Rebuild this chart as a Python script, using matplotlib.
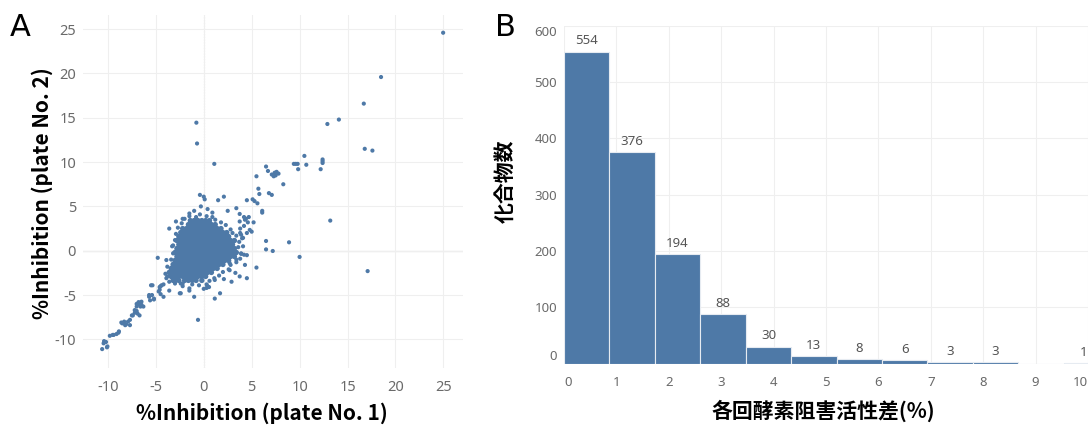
import matplotlib.pyplot as plt

plt.rcParams['axes.unicode_minus'] = False

# ---- panel A: %Inhibition plate 1 vs plate 2 ----
# dense centre of the cloud, one list of x values per y level
core_row_y = [3.4, 2.95, 2.5, 2.05, 1.6, 1.15, 0.7, 0.25, -0.2, -0.65, -1.1, -1.55, -2.0, -2.45, -2.9, -3.35]
core_row_x = [
    [-1.4, -1.0, -0.6, -0.2, 0.2, 0.6],
    [-1.6, -1.2, -0.8, -0.4, 0.0, 0.4, 0.8, 1.2],
    [-2.2, -1.8, -1.4, -1.0, -0.6, -0.2, 0.2, 0.6, 1.0, 1.4, 1.8],
    [-2.4, -2.0, -1.6, -1.2, -0.8, -0.4, 0.0, 0.4, 0.8, 1.2, 1.6, 2.0, 2.4],
    [-2.6, -2.2, -1.8, -1.4, -1.0, -0.6, -0.2, 0.2, 0.6, 1.0, 1.4, 1.8, 2.2, 2.6],
    [-2.8, -2.4, -2.0, -1.6, -1.2, -0.8, -0.4, 0.0, 0.4, 0.8, 1.2, 1.6, 2.0, 2.4, 2.8, 3.2],
    [-2.6, -2.2, -1.8, -1.4, -1.0, -0.6, -0.2, 0.2, 0.6, 1.0, 1.4, 1.8, 2.2, 2.6, 3.0],
    [-2.8, -2.4, -2.0, -1.6, -1.2, -0.8, -0.4, 0.0, 0.4, 0.8, 1.2, 1.6, 2.0, 2.4, 2.8, 3.2],
    [-3.0, -2.6, -2.2, -1.8, -1.4, -1.0, -0.6, -0.2, 0.2, 0.6, 1.0, 1.4, 1.8, 2.2, 2.6, 3.0, 3.4],
    [-2.8, -2.4, -2.0, -1.6, -1.2, -0.8, -0.4, 0.0, 0.4, 0.8, 1.2, 1.6, 2.0, 2.4, 2.8, 3.2],
    [-3.0, -2.6, -2.2, -1.8, -1.4, -1.0, -0.6, -0.2, 0.2, 0.6, 1.0, 1.4, 1.8, 2.2, 2.6],
    [-3.2, -2.8, -2.4, -2.0, -1.6, -1.2, -0.8, -0.4, 0.0, 0.4, 0.8, 1.2, 1.6, 2.0],
    [-3.4, -3.0, -2.6, -2.2, -1.8, -1.4, -1.0, -0.6, -0.2, 0.2, 0.6, 1.0, 1.4],
    [-3.6, -3.2, -2.8, -2.4, -2.0, -1.6, -1.2, -0.8, -0.4, 0.0, 0.4, 0.8],
    [-3.4, -3.0, -2.6, -2.2, -1.8, -1.4, -1.0, -0.6, -0.2, 0.2],
    [-3.2, -2.6, -2.0, -1.6, -1.2, -0.8, -0.2],
]

# loose points around the centre
fringe_pts = [
    (-2.0, 3.6), (1.2, 3.5), (1.8, 3.2), (2.3, 2.9), (2.8, 2.4), (3.0, 2.0), (3.4, 1.7),
    (3.7, 1.0), (3.6, 0.4), (3.9, -0.3), (3.8, -0.9), (3.4, -1.3), (2.8, -1.6), (2.6, -2.1),
    (2.0, -2.4), (1.6, -2.8), (1.1, -3.1), (0.6, -3.4), (0.3, -3.8), (-0.5, -3.9), (-1.2, -3.8),
    (-2.2, -3.7), (-3.0, -3.7), (-3.9, -3.1), (-4.0, -2.6), (-3.8, -1.8), (-3.4, -1.0),
    (-3.2, -0.3), (-3.3, 0.5), (-3.0, 1.2), (-2.9, 1.9), (-2.7, 2.6), (-2.3, 3.1), (-1.5, 3.9),
    (-0.8, 3.8), (-0.4, 4.1), (0.3, 3.9), (0.9, 3.8), (-1.5, 4.2), (0.9, 4.3), (2.5, 4.5),
    (3.4, 4.8), (4.4, 3.6), (4.7, 3.8), (3.8, 2.0), (4.2, 2.8), (4.0, 1.4), (3.3, -2.5),
    (4.3, -1.6), (2.9, -3.5), (2.1, -3.2), (-2.9, 3.3), (-2.2, 3.6), (-3.2, 0.6), (-3.9, -1.05),
    (-4.8, -0.8), (-3.6, 2.5), (4.1, 0.5), (4.8, 2.35), (4.5, 2.0), (3.75, 3.3), (4.1, 1.45),
    (3.4, -1.0), (2.7, -1.4), (3.75, -2.9), (2.7, -2.2), (-0.4, 6.3), (0.0, 6.1), (0.1, 5.8),
    (1.5, 5.7), (2.1, 6.1), (-0.3, 5.0), (0.4, 4.7), (-1.0, 4.5),
]

# diagonal tail towards -10 / -10
tail_pts = [
    (-10.6, -11.1), (-10.4, -10.2), (-10.45, -10.45), (-10.1, -10.9), (-10.05, -10.8),
    (-10.2, -10.3), (-9.8, -9.6), (-9.5, -9.5), (-9.4, -9.5), (-9.1, -9.4), (-8.85, -9.1),
    (-8.9, -9.25), (-8.6, -8.1), (-8.5, -8.2), (-8.3, -8.0), (-8.2, -8.4), (-8.1, -8.3),
    (-7.9, -8.0), (-7.7, -8.4), (-7.7, -7.8), (-7.5, -7.3), (-7.4, -7.3), (-7.2, -7.0),
    (-7.2, -6.7), (-7.0, -6.8), (-6.9, -7.1), (-6.7, -7.3), (-7.0, -6.0), (-7.0, -6.3),
    (-6.8, -5.8), (-6.7, -5.9), (-6.7, -6.1), (-6.5, -6.1), (-6.5, -5.75), (-6.6, -6.3),
    (-6.3, -6.3), (-5.7, -5.2), (-5.7, -5.0), (-5.6, -5.6), (-5.5, -3.9), (-5.2, -5.5),
    (-5.2, -5.4), (-5.4, -5.0), (-5.35, -3.9), (-4.7, -4.6), (-4.6, -4.4), (-4.6, -4.1),
    (-4.5, -4.0), (-4.4, -3.9), (-4.5, -4.9), (-4.2, -5.2), (-4.2, -3.8), (-3.6, -4.5),
    (-3.8, -2.9), (-3.5, -2.8), (-3.3, -3.0), (-2.9, -3.4), (-2.7, -3.2), (-2.4, -3.7),
    (-2.2, -4.0), (-2.4, -4.8), (-1.5, -4.5), (-1.0, -5.2), (-0.6, -7.8), (0.3, -4.2),
    (0.4, -4.0), (1.15, -3.3), (1.15, -5.4), (1.7, -4.8), (-3.6, -3.5), (-2.5, -4.8),
    (-1.5, -4.25), (0.0, -4.3), (0.55, -4.1),
]

# points away from the cloud (upper right, stragglers)
upper_pts = [
    (24.98, 24.6), (18.5, 19.6), (16.7, 16.6), (12.9, 14.3), (14.1, 14.8), (16.8, 11.5),
    (17.6, 11.3), (13.2, 3.4), (17.1, -2.3), (-0.77, 14.45), (-0.7, 12.1), (1.1, 9.8),
    (10.5, 10.7), (9.4, 9.8), (9.6, 9.8), (9.8, 9.8), (9.85, 9.2), (10.7, 9.7), (12.4, 9.9),
    (12.4, 10.1), (12.4, 10.3), (12.2, 9.2), (6.5, 9.5), (6.7, 9.0), (7.1, 8.6), (7.4, 8.8),
    (7.6, 8.9), (7.8, 8.7), (7.3, 8.4), (7.5, 8.5), (8.3, 7.5), (5.5, 8.4), (5.7, 7.0),
    (5.8, 6.4), (6.8, 6.5), (7.1, 6.3), (4.5, 5.7), (5.1, 5.8), (5.6, 5.35), (5.3, 5.6),
    (6.1, 4.5), (6.1, 4.3), (3.75, 4.15), (4.2, 3.8), (4.3, 3.5), (4.6, 3.2), (5.2, 3.2),
    (3.8, 2.5), (3.9, 1.8), (5.0, 2.15), (6.5, 1.1), (6.5, 0.15), (7.2, -0.03), (8.9, 0.95),
    (10.0, -0.7), (3.9, -0.35), (4.2, -0.45), (4.5, -0.5), (5.5, -1.9), (4.5, -3.1),
]

a_ticks = [-10, -5, 0, 5, 10, 15, 20, 25]

# ---- panel B: histogram of run-to-run difference ----
bin_width = 0.867
counts = [554, 376, 194, 88, 30, 13, 8, 6, 3, 3, 0, 1]
b_xticks = [0, 1, 2, 3, 4, 5, 6, 7, 8, 9, 10]
b_yticks = [0, 100, 200, 300, 400, 500, 600]

BLUE = '#4e79a7'
TICK = '#6a6a6a'
W, H = 1088, 425

fig = plt.figure(figsize=(W / 100, H / 100), dpi=100)

# panel A
axA = fig.add_axes([83 / W, (H - 367.7) / H, 379.5 / W, 352.7 / H])
core_x, core_y = [], []
for y, row in zip(core_row_y, core_row_x):
    for x in row:
        core_x.append(x)
        core_y.append(y)
other_x, other_y = [], []
for pts in (fringe_pts, tail_pts, upper_pts):
    for x, y in pts:
        other_x.append(x)
        other_y.append(y)
# centre points drawn a touch larger so the overlapping cloud reads as solid
axA.scatter(core_x, core_y, s=15, color=BLUE, edgecolors='none', zorder=3)
axA.scatter(other_x, other_y, s=9, color=BLUE, edgecolors='none', zorder=3)
axA.set_xlim(-12.6, 27)
axA.set_ylim(-13.2, 26.6)
axA.set_xticks(a_ticks)
axA.set_yticks(a_ticks)
axA.grid(color='#efefef', lw=0.8, zorder=0)
axA.axvline(0, color='#c4c4c4', lw=0.8, ls=(0, (1, 1.5)), zorder=1)
axA.axhline(0, color='#d8d8d8', lw=0.9, zorder=1)
for s in axA.spines.values():
    s.set_visible(False)
axA.tick_params(axis='x', length=0, pad=9, labelsize=10.5, labelcolor=TICK)
axA.tick_params(axis='y', length=0, pad=5, labelsize=10.5, labelcolor=TICK)
for lab in axA.get_xticklabels() + axA.get_yticklabels():
    lab.set_family('Noto Sans')

fig.text(20 / W, 1 - 28 / H, 'A', fontsize=22, ha='center', va='center')
fig.text(262 / W, 1 - 413 / H, '%Inhibition (plate No. 1)', fontsize=15, fontweight='bold',
         family='Noto Sans CJK JP', ha='center', va='center')
fig.text(42 / W, 1 - 193 / H, '%Inhibition (plate No. 2)', fontsize=15, fontweight='bold',
         family='Noto Sans CJK JP', ha='center', va='center', rotation=90)

# panel B
axB = fig.add_axes([564 / W, (H - 363.5) / H, 524 / W, 337.8 / H])
lefts = [i * bin_width for i in range(len(counts))]
axB.bar(lefts, counts, width=bin_width, align='edge', color=BLUE,
        edgecolor='#e6ebf1', lw=0.8, zorder=3)
axB.set_xlim(0, 10)
axB.set_ylim(0, 600)
axB.set_xticks(b_xticks)
axB.set_yticks(b_yticks)
axB.grid(color='#efefef', lw=0.8, zorder=0)
for s in axB.spines.values():
    s.set_visible(False)
axB.tick_params(axis='x', length=0, pad=9, labelsize=9.5, labelcolor=TICK)
axB.tick_params(axis='y', length=0, pad=5, labelsize=9.5, labelcolor=TICK)
for lab in axB.get_xticklabels() + axB.get_yticklabels():
    lab.set_family('Noto Sans')
xl = axB.get_xticklabels()
xl[0].set_ha('left')
xl[-1].set_ha('right')
yl = axB.get_yticklabels()
yl[0].set_va('bottom')
yl[-1].set_va('top')

for left, c in zip(lefts, counts):
    if c == 0:
        continue
    x = left + bin_width / 2
    ha = 'center'
    if x > 9.9:
        x, ha = 9.98, 'right'
    axB.annotate(str(c), (x, c), xytext=(0, 3), textcoords='offset points',
                 ha=ha, va='bottom', fontsize=9.5, color='#555555', family='Noto Sans')

fig.text(505 / W, 1 - 28 / H, 'B', fontsize=22, ha='center', va='center')
fig.text(823 / W, 1 - 411 / H, '各回酵素阻害活性差(%)', fontsize=15, fontweight='bold',
         family=['Noto Sans CJK JP', 'DejaVu Sans'], ha='center', va='center')
fig.text(505 / W, 1 - 181 / H, '化合物数', fontsize=15, fontweight='bold',
         family=['Noto Sans CJK JP', 'DejaVu Sans'], ha='center', va='center', rotation=90)

fig.savefig('out.png', dpi=100)
